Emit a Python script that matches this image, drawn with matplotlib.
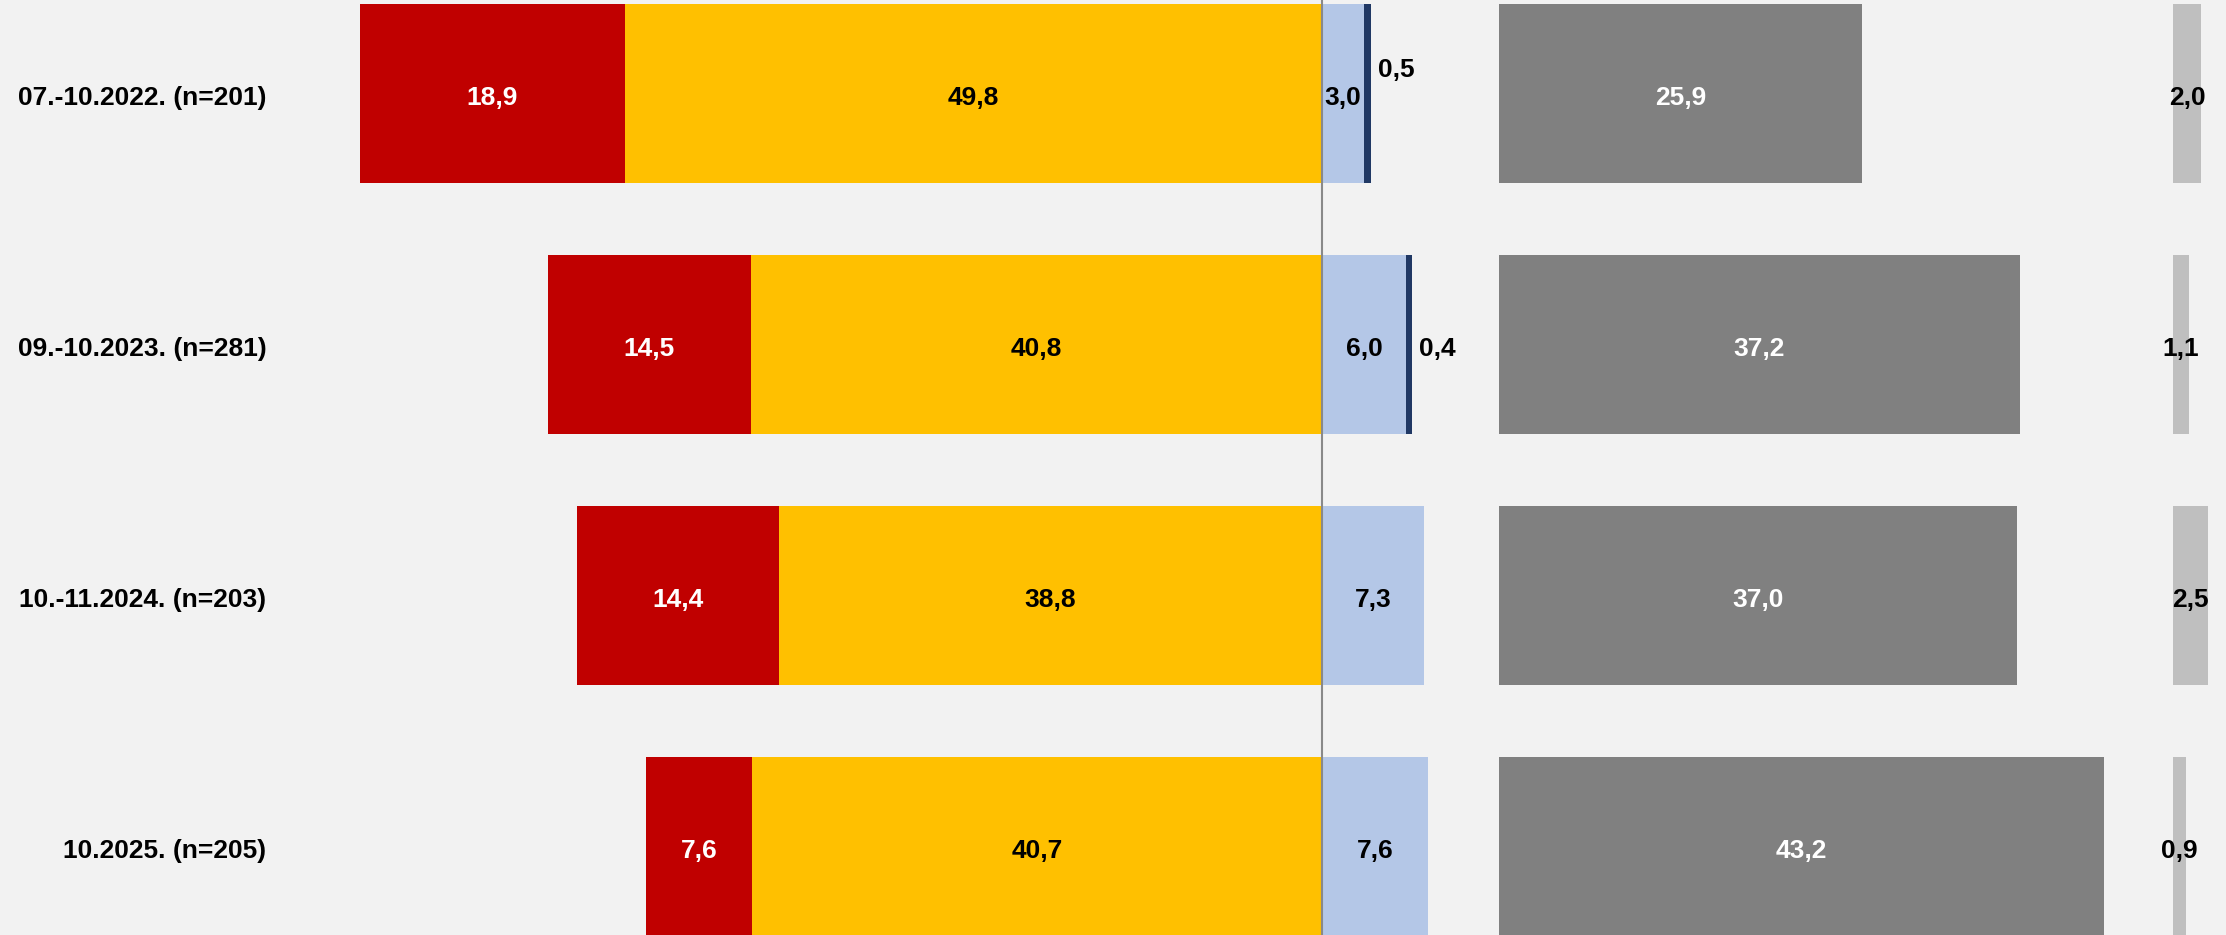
import numpy as np
import matplotlib.pyplot as plt

# data
labels = ['07.-10.2022. (n=201)', '09.-10.2023. (n=281)',
          '10.-11.2024. (n=203)', '10.2025. (n=205)']
very_neg = [18.9, 14.5, 14.4, 7.6]
neg = [49.8, 40.8, 38.8, 40.7]
pos = [3.0, 6.0, 7.3, 7.6]
very_pos = [0.5, 0.4, 0.0, 0.0]
dont_know = [25.9, 37.2, 37.0, 43.2]
no_answer = [2.0, 1.1, 2.5, 0.9]

c_red = '#C00000'
c_yellow = '#FFC000'
c_lblue = '#B4C7E7'
c_navy = '#203864'
c_gray = '#808080'
c_lgray = '#BFBFBF'
bg = '#F2F2F2'

def fmt(v):
    return f'{v:.1f}'.replace('.', ',')

plt.rcParams['font.family'] = ['Liberation Sans', 'DejaVu Sans']
plt.rcParams['font.weight'] = 'bold'

fig = plt.figure(figsize=(22.26, 9.35), dpi=100, facecolor=bg)
ax = fig.add_axes([0, 0, 1, 1], facecolor=bg)

y = np.arange(len(labels))
h = 0.713
fs = 19
gray_start = 12.64
lgray_start = 60.8

vn = np.array(very_neg)
n = np.array(neg)
p = np.array(pos)
vp = np.array(very_pos)
dk = np.array(dont_know)
na = np.array(no_answer)

ax.barh(y, -n, height=h, color=c_yellow)
ax.barh(y, -vn, left=-n, height=h, color=c_red)
ax.barh(y, p, height=h, color=c_lblue)
ax.barh(y, vp, left=p, height=h, color=c_navy)
ax.barh(y, dk, left=gray_start, height=h, color=c_gray)
ax.barh(y, na, left=lgray_start, height=h, color=c_lgray)

ax.axvline(0, color='#898989', lw=1.5, zorder=3)

ty = y + 0.016  # text sits a touch below bar centre
navy_nudge = [-0.11, 0.0, 0.0, 0.0]
for i in range(len(labels)):
    ax.text(-75.4, ty[i], labels[i], ha='right', va='center', fontsize=fs)
    ax.text(-n[i] - vn[i] / 2, ty[i], fmt(vn[i]), ha='center', va='center',
            fontsize=fs, color='white')
    ax.text(-n[i] / 2, ty[i], fmt(n[i]), ha='center', va='center', fontsize=fs)
    ax.text(p[i] / 2, ty[i], fmt(p[i]), ha='center', va='center', fontsize=fs)
    if vp[i] > 0:
        ax.text(p[i] + vp[i] + 0.5, ty[i] + navy_nudge[i], fmt(vp[i]),
                ha='left', va='center', fontsize=fs)
    ax.text(gray_start + dk[i] / 2, ty[i], fmt(dk[i]), ha='center', va='center',
            fontsize=fs, color='white')
    ax.text(lgray_start + na[i] / 2, ty[i], fmt(na[i]), ha='center', va='center',
            fontsize=fs)

ax.set_xlim(-94.43, 64.57)
ax.set_ylim(3.3526, -0.3725)
ax.axis('off')

fig.savefig('out.png', dpi=100, facecolor=bg)
